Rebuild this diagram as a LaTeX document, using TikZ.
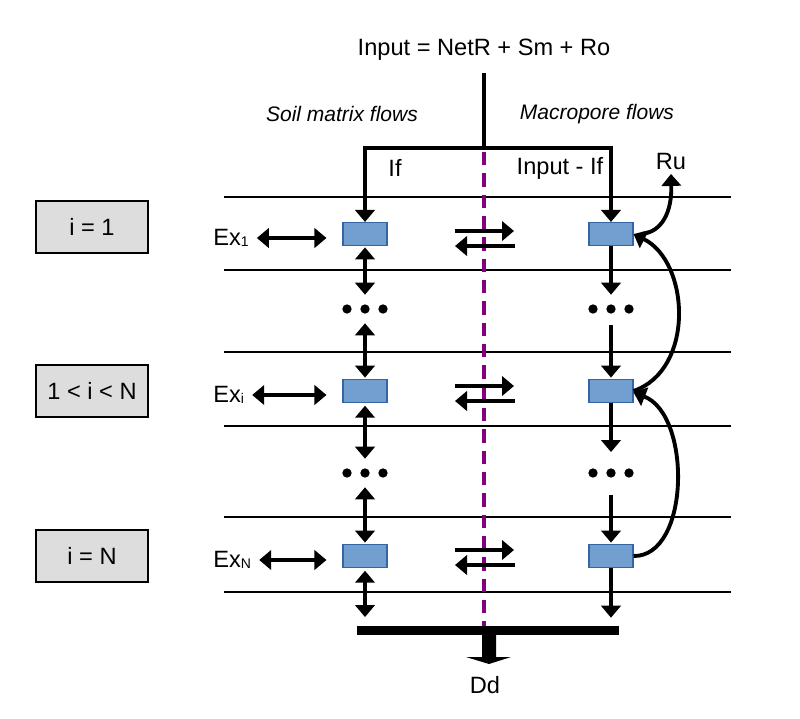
\documentclass[tikz,border=0pt]{standalone}
\usepackage{fontspec}
\setmainfont{Liberation Sans}
\usetikzlibrary{arrows.meta}
\definecolor{boxblue}{HTML}{729FCF}
\definecolor{boxedge}{HTML}{3465A4}
\definecolor{lblgray}{HTML}{DDDDDD}
\definecolor{dashpurple}{HTML}{800080}
\begin{document}
\begin{tikzpicture}[x=0.75pt,y=-0.75pt,
  every node/.style={font=\fontsize{17.7}{21}\selectfont},
  tri/.style={-{Triangle[width=14.5pt,length=9pt]}},
  dtri/.style={{Triangle[width=14.5pt,length=9pt]}-{Triangle[width=14.5pt,length=9pt]}},
  flow/.style={line width=2.9pt},
  layer/.style={line width=1pt},
  cell/.style={draw=boxedge, fill=boxblue, line width=0.8pt, minimum width=33pt, minimum height=17.25pt, inner sep=0pt},
  idx/.style={draw=black, fill=lblgray, line width=1.1pt, minimum width=84pt, minimum height=39pt, inner sep=0pt},
  dotsrow/.style={minimum width=34pt, minimum height=21pt, inner sep=0pt},
  italic/.style={font=\fontsize{15.75}{19}\selectfont\itshape},
  exlbl/.style={anchor=west, inner sep=0pt}
]
\useasboundingbox (0,0) rectangle (800,718);

% layer lines
\foreach \y in {197,270,352,426,517,592}
  \draw[layer] (224,\y) -- (731,\y);

% texts
\node (title) at (484,50) {Input = NetR + Sm + Ro};
\node[italic] (soil) at (342,114) {Soil matrix flows};
\node[italic] (mac) at (597,114) {Macropore flows};
\node (if) at (395,168) {If};
\node (inif) at (560,168) {Input - If};
\node (ru) at (671,161) {Ru};
\node (dd) at (485,685) {Dd};

\coordinate (top) at (484,73);
\coordinate (j) at (484,148);

% index boxes
\node[idx] (i1) at (92,227) {i = 1};
\node[idx] (i2) at (92,391) {1 < i < N};
\node[idx] (i3) at (92,556) {i = N};

% cells
\node[cell] (L1) at (365,234) {};
\node[cell] (R1) at (611,234) {};
\node[cell] (L2) at (365,391) {};
\node[cell] (R2) at (611,391) {};
\node[cell] (L3) at (365,556) {};
\node[cell] (R3) at (611,556) {};

% dots
\node[dotsrow] (DL1) at (365,309) {};
\node[dotsrow] (DR1) at (611,309) {};
\node[dotsrow] (DL2) at (365,473) {};
\node[dotsrow] (DR2) at (611,473) {};
\foreach \n in {DL1,DR1,DL2,DR2}
  \foreach \dx in {-13.5pt,0pt,13.5pt}
    \fill ([xshift=\dx]\n.center) circle[radius=3.5pt];

% bottom bar
\node[fill=black, minimum width=196.5pt, minimum height=6.75pt, inner sep=0pt] (bar) at (488,630.5) {};

% Ex labels
\node[exlbl] (ex1) at (213,238) {Ex\raisebox{-1pt}{\fontsize{10.5}{12}\selectfont 1}};
\node[exlbl] (ex2) at (213,395) {Ex\raisebox{-1pt}{\fontsize{10.5}{12}\selectfont i}};
\node[exlbl] (ex3) at (213,560) {Ex\raisebox{-1pt}{\fontsize{10.5}{12}\selectfont N}};

% dashed divider
\draw[dashpurple, line width=2.6pt, dash pattern=on 10pt off 6pt] ([yshift=-3pt]j) -- (j |- bar.north);

% input flows
\draw[flow] (top) -- (j);
\draw[flow,tri] (j) -| (L1.north);
\draw[flow,tri] (j) -| (R1.north);

% soil matrix column
\draw[flow,dtri,shorten <=1pt] (L1.south) -- (DL1.north);
\draw[flow,dtri,shorten >=1pt] (DL1.south) -- (L2.north);
\draw[flow,dtri,shorten <=2pt] (L2.south) -- (DL2.north);
\draw[flow,dtri,shorten >=1pt] (DL2.south) -- (L3.north);
\draw[flow,dtri,shorten <=2pt,shorten >=6.5pt] (L3.south) -- (L3.south |- bar.north);

% macropore column
\draw[flow,tri] (R1.south) -- (DR1.north);
\draw[flow,tri,shorten <=1.5pt,shorten >=1pt] (DR1.south) -- (R2.north);
\draw[flow,tri,shorten >=5pt] (R2.south) -- (DR2.north);
\draw[flow,tri,shorten <=6pt,shorten >=1pt] (DR2.south) -- (R3.north);
\draw[flow,tri,shorten >=6pt] (R3.south) -- (R3.south |- bar.north);

% Ex arrows
\draw[flow,dtri,shorten <=6pt,shorten >=12pt] (ex1.east) -- (ex1.east -| L1.west);
\draw[flow,dtri,shorten <=6pt,shorten >=12pt] (ex2.east) -- (ex2.east -| L2.west);
\draw[flow,dtri,shorten <=6pt,shorten >=12pt] (ex3.east) -- (ex3.east -| L3.west);

% exchange arrows
\foreach \r/\a/\b in {1/231/246, 2/386/401, 3/550/565}{
  \coordinate (xa\r) at (455,\a);
  \coordinate (xb\r) at (514,\a);
  \coordinate (xc\r) at (515,\b);
  \coordinate (xd\r) at (455,\b);
  \draw[flow,tri] (xa\r) -- (xb\r);
  \draw[flow,tri] (xc\r) -- (xd\r);
}

% returns / upflow
\draw[flow,tri] (R2.east) .. controls (695,370) and (690,262) .. (R1.east);
\draw[flow,tri] (R3.east) .. controls (690,557) and (692,415) .. ([yshift=-1pt]R2.east);
\draw[flow,tri] ([xshift=6pt]R1.east) .. controls (662,232) and (672,212) .. (ru.south);

% deep drainage fat arrow
\coordinate (ddtip) at (489,664);
\fill (482,635) -- (496,635) -- (496,657) -- (511,657) -- (ddtip) -- (466,657) -- (482,657) -- cycle;
\end{tikzpicture}
\end{document}
